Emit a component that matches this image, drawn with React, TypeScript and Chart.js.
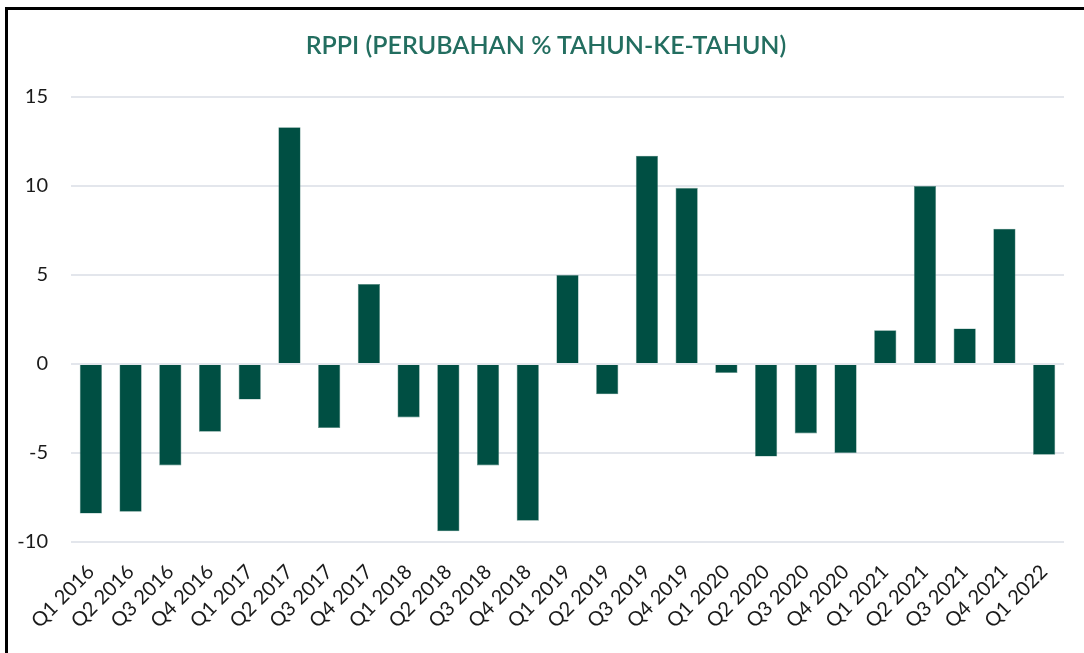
import React, { useEffect, useRef } from "react";
import { Chart, registerables } from "chart.js";

Chart.register(...registerables);

const categories = [
  "Q1 2016", "Q2 2016", "Q3 2016", "Q4 2016",
  "Q1 2017", "Q2 2017", "Q3 2017", "Q4 2017",
  "Q1 2018", "Q2 2018", "Q3 2018", "Q4 2018",
  "Q1 2019", "Q2 2019", "Q3 2019", "Q4 2019",
  "Q1 2020", "Q2 2020", "Q3 2020", "Q4 2020",
  "Q1 2021", "Q2 2021", "Q3 2021", "Q4 2021",
  "Q1 2022",
];

const rppiValues = [
  -8.4, -8.3, -5.7, -3.8,
  -2.0, 13.3, -3.6, 4.5,
  -3.0, -9.4, -5.7, -8.8,
  5.0, -1.7, 11.7, 9.9,
  -0.5, -5.2, -3.9, -5.0,
  1.9, 10.0, 2.0, 7.6,
  -5.1,
];

const titleText = "RPPI (PERUBAHAN % TAHUN-KE-TAHUN)";
const yMin = -10;
const yMax = 15;
const yStep = 5;

export default function App() {
  const ref = useRef<HTMLCanvasElement | null>(null);

  useEffect(() => {
    if (!ref.current) return;
    const chart = new Chart(ref.current, {
      type: "bar",
      data: {
        labels: categories,
        datasets: [
          {
            data: rppiValues,
            backgroundColor: "#004F43",
            borderColor: "#5E8F86",
            borderWidth: 0.6,
            categoryPercentage: 1,
            barPercentage: 0.56,
          },
        ],
      },
      options: {
        animation: false,
        responsive: false,
        layout: { padding: { left: 0, right: 20, top: 97, bottom: 0 } },
        plugins: {
          legend: { display: false },
          tooltip: { enabled: false },
          title: { display: false },
        },
        scales: {
          x: {
            afterFit: (s: any) => {
              s.height = 111;
            },
            grid: { display: false, drawTicks: false },
            border: { display: false },
            ticks: {
              color: "#1a1a1a",
              font: { family: "Lato", size: 20 },
              maxRotation: 45,
              minRotation: 45,
              autoSkip: false,
              padding: 18,
            },
          },
          y: {
            min: yMin,
            max: yMax,
            afterFit: (s: any) => {
              s.width = 71;
            },
            grid: { color: "#E3E6EC", lineWidth: 2, drawTicks: false },
            border: { display: false },
            ticks: {
              stepSize: yStep,
              color: "#1a1a1a",
              font: { family: "Lato", size: 20 },
              padding: 23,
            },
          },
        },
      },
    });
    return () => chart.destroy();
  }, []);

  return (
    <div style={{ position: "fixed", left: 0, top: 0, width: 1084, height: 653, background: "#fff" }}>
      <canvas ref={ref} width={1084} height={653} style={{ position: "absolute", left: 0, top: 0 }} />
      <div
        style={{
          position: "absolute",
          left: 546 - 300,
          width: 600,
          top: 44 - 15,
          height: 30,
          lineHeight: "30px",
          textAlign: "center",
          fontFamily: "Lato",
          fontWeight: 600,
          fontSize: 25,
          color: "#236E60",
          whiteSpace: "nowrap",
        }}
      >
        {titleText}
      </div>
      <div
        style={{
          position: "absolute",
          left: 5,
          top: 7,
          right: 0,
          bottom: 0,
          borderLeft: "3px solid #000",
          borderTop: "3px solid #000",
          pointerEvents: "none",
        }}
      />
    </div>
  );
}
